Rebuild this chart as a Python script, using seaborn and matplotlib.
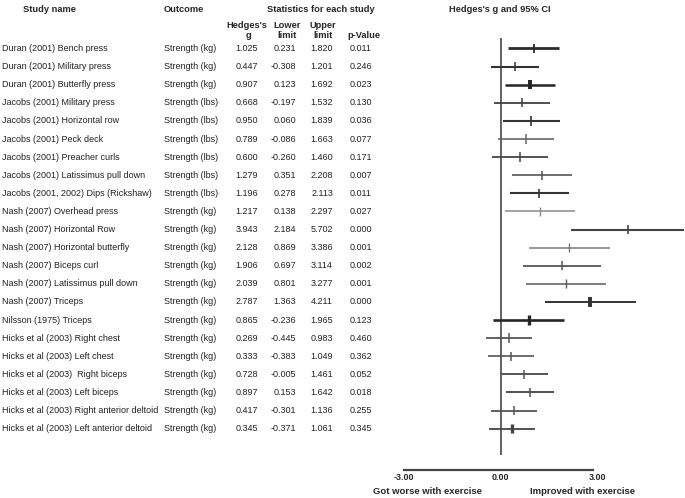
import numpy as np
import pandas as pd
import matplotlib
matplotlib.use("Agg")
import matplotlib.pyplot as plt
import matplotlib.transforms as mtransforms
import seaborn as sns

# ---- data ----
studies = [
    "Duran (2001) Bench press",
    "Duran (2001) Military press",
    "Duran (2001) Butterfly press",
    "Jacobs (2001) Military press",
    "Jacobs (2001) Horizontal row",
    "Jacobs (2001) Peck deck",
    "Jacobs (2001) Preacher curls",
    "Jacobs (2001) Latissimus pull down",
    "Jacobs (2001, 2002) Dips (Rickshaw)",
    "Nash (2007) Overhead press",
    "Nash (2007) Horizontal Row",
    "Nash (2007) Horizontal butterfly",
    "Nash (2007) Biceps curl",
    "Nash (2007) Latissimus pull down",
    "Nash (2007) Triceps",
    "Nilsson (1975) Triceps",
    "Hicks et al (2003) Right chest",
    "Hicks et al (2003) Left chest",
    "Hicks et al (2003)  Right biceps",
    "Hicks et al (2003) Left biceps",
    "Hicks et al (2003) Right anterior deltoid",
    "Hicks et al (2003) Left anterior deltoid",
]
outcomes = ["Strength (kg)"] * 3 + ["Strength (lbs)"] * 6 + ["Strength (kg)"] * 13
hedges_g = [1.025, 0.447, 0.907, 0.668, 0.950, 0.789, 0.600, 1.279, 1.196,
            1.217, 3.943, 2.128, 1.906, 2.039, 2.787, 0.865,
            0.269, 0.333, 0.728, 0.897, 0.417, 0.345]
lower = [0.231, -0.308, 0.123, -0.197, 0.060, -0.086, -0.260, 0.351, 0.278,
         0.138, 2.184, 0.869, 0.697, 0.801, 1.363, -0.236,
         -0.445, -0.383, -0.005, 0.153, -0.301, -0.371]
upper = [1.820, 1.201, 1.692, 1.532, 1.839, 1.663, 1.460, 2.208, 2.113,
         2.297, 5.702, 3.386, 3.114, 3.277, 4.211, 1.965,
         0.983, 1.049, 1.461, 1.642, 1.136, 1.061]
p_values = [0.011, 0.246, 0.023, 0.130, 0.036, 0.077, 0.171, 0.007, 0.011,
            0.027, 0.000, 0.001, 0.002, 0.001, 0.000, 0.123,
            0.460, 0.362, 0.052, 0.018, 0.255, 0.345]
tick_vals = [-3, 0, 3]
tick_labels = ["-3.00", "0.00", "3.00"]

# ---- styling per row (grey shade / line weight as in the scan) ----
line_colors = ["#2b2b2b", "#333333", "#252525", "#404040", "#333333", "#666666",
               "#444444", "#555555", "#333333", "#8a8a8a", "#444444", "#7a7a7a",
               "#555555", "#5a5a5a", "#333333", "#252525",
               "#555555", "#555555", "#555555", "#505050", "#555555", "#444444"]
line_widths = [2.0, 1.5, 1.8, 1.3, 1.5, 1.2, 1.3, 1.2, 1.5, 1.1, 1.5, 1.1,
               1.3, 1.1, 1.4, 1.9, 1.3, 1.2, 1.4, 1.4, 1.3, 1.3]
marker_widths = [1.3, 1.1, 2.8, 1.1, 1.2, 1.1, 1.1, 1.1, 1.2, 1.0, 1.2, 1.0,
                 1.1, 1.0, 2.8, 2.4, 1.1, 1.1, 1.1, 1.1, 1.1, 2.4]

df = pd.DataFrame({"study": studies, "outcome": outcomes, "g": hedges_g,
                   "lower": lower, "upper": upper, "p": p_values})
df["row"] = np.arange(len(df))

sns.set_style("white")
plt.rcParams["font.family"] = ["Liberation Sans", "DejaVu Sans"]

W, H = 685, 498
fig = plt.figure(figsize=(W / 100, H / 100), dpi=100)

# forest axes: 0 at x=500.7px, 32.2 px per unit; rows 48px + 18.1px*i
x0, ppu = 500.7, 32.2
ax = fig.add_axes([400 / W, 28 / H, 285 / W, 434 / H])
ax.set_xlim((400 - x0) / ppu, (685 - x0) / ppu)
row0, rstep = 48.5, 18.1
ax.set_ylim((470 - row0) / rstep, (36 - row0) / rstep)

ax.vlines(0, (38 - row0) / rstep, (455 - row0) / rstep, color="#555555", lw=1.3)
ax.hlines(df["row"], df["lower"], df["upper"], colors=line_colors,
          linewidths=line_widths)
sns.scatterplot(data=df, x="g", y="row", hue="study",
                palette=dict(zip(studies, line_colors)), marker="|", s=45,
                linewidth=marker_widths, legend=False, ax=ax, zorder=3)

for side in ["top", "right", "left"]:
    ax.spines[side].set_visible(False)
ax.spines["bottom"].set_bounds(-3, 2.88)
ax.spines["bottom"].set_color("#444444")
ax.spines["bottom"].set_linewidth(1.6)
ax.set_xticks(tick_vals)
ax.set_xticklabels(tick_labels, fontsize=6.4, fontweight="bold")
ax.tick_params(axis="x", length=0, pad=2.5)
ax.set_yticks([])
ax.set_xlabel("")
ax.set_ylabel("")

# ---- table text ----
trans = mtransforms.blended_transform_factory(fig.transFigure, ax.transData)
fs = 6.5
tc = "#222222"
for i, r in df.iterrows():
    y = r["row"]
    fig.text(2 / W, y, r["study"], transform=trans, va="center", ha="left", fontsize=fs, color=tc)
    fig.text(164 / W, y, r["outcome"], transform=trans, va="center", ha="left", fontsize=fs, color=tc)
    fig.text(258 / W, y, f"{r['g']:.3f}", transform=trans, va="center", ha="right", fontsize=fs, color=tc)
    fig.text(296 / W, y, f"{r['lower']:.3f}", transform=trans, va="center", ha="right", fontsize=fs, color=tc)
    fig.text(333 / W, y, f"{r['upper']:.3f}", transform=trans, va="center", ha="right", fontsize=fs, color=tc)
    fig.text(372 / W, y, f"{r['p']:.3f}", transform=trans, va="center", ha="right", fontsize=fs, color=tc)


def ftext(x, y, s, size=6.7, **kw):
    fig.text(x / W, 1 - y / H, s, fontsize=size, fontweight="bold", va="center", **kw)


ftext(49, 10, "Study name", ha="center")
ftext(164, 10, "Outcome", ha="left")
ftext(321, 10, "Statistics for each study", ha="center")
ftext(500, 10, "Hedges's g and 95% CI", ha="center")
ftext(247, 25, "Hedges's", ha="center")
ftext(248, 35.5, "g", ha="center")
ftext(287, 25, "Lower", ha="center")
ftext(287, 35.5, "limit", ha="center")
ftext(323, 25, "Upper", ha="center")
ftext(323, 35.5, "limit", ha="center")
ftext(364, 35.5, "p-Value", ha="center")
ftext(427, 491.5, "Got worse with exercise", size=6.8, ha="center")
ftext(583, 491.5, "Improved with exercise", size=6.8, ha="center")

fig.savefig("out.png", dpi=100)
